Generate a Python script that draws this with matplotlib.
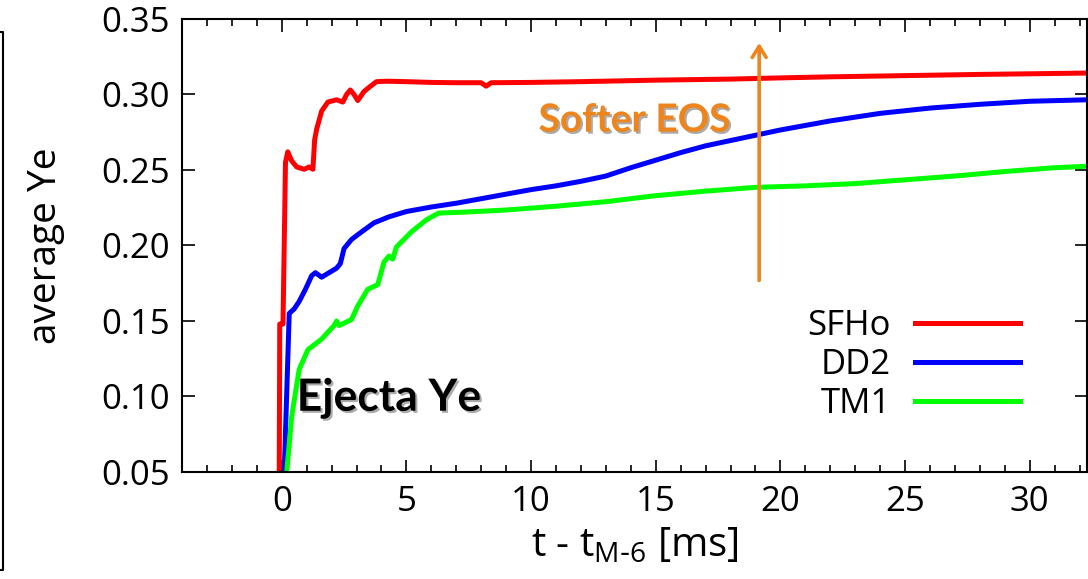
import matplotlib
matplotlib.use('Agg')
import matplotlib.pyplot as plt
import matplotlib.patheffects as pe
from matplotlib.lines import Line2D
from matplotlib.ticker import MultipleLocator, FormatStrFormatter

plt.rcParams['font.family'] = ['Open Sans', 'DejaVu Sans']
plt.rcParams['mathtext.default'] = 'regular'

# time since M-6 [ms] and mass-averaged Ye of the ejecta
sfho_t = [-0.1, -0.08, 0.05, 0.15, 0.24, 0.4, 0.6, 0.9, 1.1, 1.25, 1.32, 1.4, 1.6, 1.85,
          2.2, 2.45, 2.6, 2.75, 2.9, 3.05, 3.3, 3.6, 3.8, 4.2, 5.0, 6.0, 7.0, 8.0, 8.2,
          8.4, 10.0, 12.0, 15.0, 18.0, 20.0, 22.0, 25.0, 28.0, 30.0, 32.3]
sfho_ye = [0.05, 0.148, 0.148, 0.255, 0.262, 0.256, 0.252, 0.2505, 0.252, 0.2505, 0.27,
           0.277, 0.289, 0.295, 0.2965, 0.295, 0.300, 0.303, 0.300, 0.296, 0.302, 0.306,
           0.3085, 0.3088, 0.3085, 0.308, 0.3078, 0.3078, 0.3055, 0.3078, 0.308, 0.3085,
           0.3095, 0.3102, 0.311, 0.3117, 0.3125, 0.3133, 0.3137, 0.3142]

dd2_t = [0.1, 0.3, 0.5, 0.7, 0.95, 1.2, 1.35, 1.6, 1.9, 2.2, 2.35, 2.5, 2.8, 3.2, 3.7,
         4.3, 5.0, 6.0, 7.0, 8.0, 9.0, 10.0, 11.0, 12.0, 13.0, 14.0, 15.0, 16.0, 17.0,
         18.0, 19.0, 20.0, 22.0, 24.0, 26.0, 28.0, 30.0, 32.3]
dd2_ye = [0.05, 0.155, 0.158, 0.163, 0.171, 0.180, 0.182, 0.179, 0.182, 0.185, 0.188,
          0.198, 0.204, 0.209, 0.215, 0.219, 0.2225, 0.2255, 0.228, 0.231, 0.234, 0.237,
          0.2395, 0.2425, 0.246, 0.2515, 0.2565, 0.2615, 0.266, 0.2695, 0.273, 0.2765,
          0.2825, 0.2875, 0.291, 0.2935, 0.2955, 0.2965]

tm1_t = [0.2, 0.4, 0.7, 1.05, 1.6, 2.1, 2.2, 2.3, 2.8, 3.05, 3.45, 3.85, 4.1, 4.3, 4.45,
         4.6, 5.2, 5.8, 6.3, 7.2, 9.0, 11.0, 13.0, 15.0, 17.0, 19.0, 21.0, 23.0, 25.0,
         27.0, 29.0, 31.0, 32.3]
tm1_ye = [0.05, 0.087, 0.118, 0.131, 0.138, 0.147, 0.150, 0.147, 0.151, 0.160, 0.171,
          0.174, 0.189, 0.193, 0.191, 0.199, 0.209, 0.217, 0.2215, 0.222, 0.2235, 0.226,
          0.229, 0.233, 0.236, 0.2385, 0.2395, 0.241, 0.2435, 0.246, 0.249, 0.2515, 0.2525]

fig = plt.figure(figsize=(10.88, 5.79), dpi=100)
ax = fig.add_axes([0.1673, 0.1848, 0.8318, 0.7824])

ax.plot(sfho_t, sfho_ye, color='#ff0000', lw=3.6, label='SFHo')
ax.plot(dd2_t, dd2_ye, color='#0000ff', lw=3.6, label='DD2')
ax.plot(tm1_t, tm1_ye, color='#00ff00', lw=3.6, label='TM1')

ax.set_xlim(-4, 32.3)
ax.set_ylim(0.05, 0.35)
ax.xaxis.set_major_locator(MultipleLocator(5))
ax.xaxis.set_minor_locator(MultipleLocator(1))
ax.yaxis.set_major_locator(MultipleLocator(0.05))
ax.yaxis.set_major_formatter(FormatStrFormatter('%.2f'))
ax.tick_params(which='both', direction='in', top=True, right=True, width=1.2,
               labelsize=25)
ax.tick_params(which='major', length=9, pad=9)
ax.tick_params(which='minor', length=5)
for s in ax.spines.values():
    s.set_linewidth(1.5)

ax.set_xlabel(r't - t$_{M\text{-}6}$ [ms]', fontsize=29, labelpad=5)
ax.set_ylabel('average Ye', fontsize=28, labelpad=26)

ax.legend(loc='center right', bbox_to_anchor=(0.96, 0.236), frameon=False,
          markerfirst=False, fontsize=25, handlelength=3.0, labelspacing=0.15,
          handletextpad=0.7)

shadow = [pe.SimplePatchShadow(offset=(1.5, -1.5), shadow_rgbFace='#888888', alpha=0.7),
          pe.Normal()]
ax.text(0.6, 0.099, 'Ejecta Ye', fontsize=32, fontweight='bold', family='Lato',
        color='black', va='center', ha='left', path_effects=shadow)
ax.text(10.3, 0.283, 'Softer EOS', fontsize=28, fontweight='bold', family='Lato',
        color='#ee851c', va='center', ha='left', path_effects=shadow)

# arrow pointing toward softer equations of state
ax.annotate('', xy=(19.15, 0.336), xytext=(19.15, 0.175),
            arrowprops=dict(arrowstyle='->,head_length=0.8,head_width=0.5',
                            color='#ee851c', lw=2.6))

# partial frame at the left edge (pixel coordinates)
W, H = 1088, 579
fig.add_artist(Line2D([0 / W, 3 / W, 3 / W, 0 / W],
                      [1 - 32 / H, 1 - 32 / H, 1 - 570 / H, 1 - 570 / H],
                      transform=fig.transFigure, color='black', lw=1.5))

plt.savefig('out.png', dpi=100)
